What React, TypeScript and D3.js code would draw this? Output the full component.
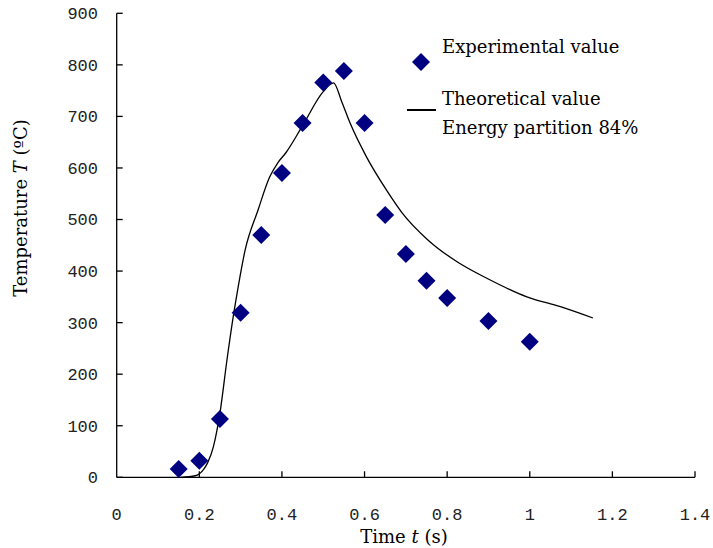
import React from "react";
import * as d3 from "d3";

const expTime = [0.15, 0.2, 0.25, 0.3, 0.35, 0.4, 0.45, 0.5, 0.55, 0.6, 0.65, 0.7, 0.75, 0.8, 0.9, 1.0];
const expTemp = [16, 32, 113, 319, 470, 590, 687, 766, 788, 687, 509, 433, 381, 348, 303, 263];

const theoTime = [0.155, 0.19, 0.21, 0.22, 0.234, 0.25, 0.267, 0.282, 0.294, 0.311, 0.342, 0.37, 0.39, 0.41, 0.45, 0.5, 0.525, 0.545, 0.565, 0.605, 0.654, 0.69, 0.754, 0.824, 0.896, 0.993, 1.074, 1.153];
const theoTemp = [0, 3, 15, 28, 59, 125, 228, 311, 369, 441, 518, 582, 610, 630, 682, 748, 765, 728, 687, 621, 556, 514, 460, 418, 386, 350, 331, 309];

const xTicks = [0, 0.2, 0.4, 0.6, 0.8, 1, 1.2, 1.4];
const xTickLabels = ["0", "0.2", "0.4", "0.6", "0.8", "1", "1.2", "1.4"];
const yTicks = [0, 100, 200, 300, 400, 500, 600, 700, 800, 900];

export default function App() {
  const W = 713, H = 548;
  const x = d3.scaleLinear().domain([0, 1.4]).range([116.7, 695]);
  const y = d3.scaleLinear().domain([0, 900]).range([477.3, 13.3]);
  const line = d3.line<number>().x((_, i) => x(theoTime[i])).y((d) => y(d)).curve(d3.curveMonotoneX);
  const diamond = (cx: number, cy: number, r = 9) => `M${cx},${cy - r}L${cx + r},${cy}L${cx},${cy + r}L${cx - r},${cy}Z`;
  const mono = "'Liberation Mono', 'DejaVu Sans Mono', monospace";
  const serif = "'DejaVu Serif', 'Liberation Serif', serif";
  const fs = 18;
  return (
    <svg width={W} height={H} style={{ position: "absolute", left: 0, top: 0, background: "#fff" }}>
      <rect width={W} height={H} fill="#fff" />
      {/* axes */}
      <line x1={x(0)} x2={x(0)} y1={y(900)} y2={y(0)} stroke="#000" strokeWidth={1.3} />
      <line x1={x(0)} x2={x(1.4)} y1={y(0)} y2={y(0)} stroke="#000" strokeWidth={1.3} />
      {yTicks.map((t) => (
        <g key={"y" + t}>
          <line x1={x(0)} x2={x(0) + 6} y1={y(t)} y2={y(t)} stroke="#000" strokeWidth={1.3} />
          <text x={98} y={y(t)} dy="0.35em" textAnchor="end" fontFamily={mono} fontSize={17} fill="#222">{t}</text>
        </g>
      ))}
      {xTicks.map((t, i) => (
        <g key={"x" + t}>
          {i > 0 && <line x1={x(t)} x2={x(t)} y1={y(0)} y2={y(0) - 6} stroke="#000" strokeWidth={1.3} />}
          <text x={x(t)} y={520} textAnchor="middle" fontFamily={mono} fontSize={17} fill="#222">{xTickLabels[i]}</text>
        </g>
      ))}
      {/* theoretical curve */}
      <path d={line(theoTemp) || ""} fill="none" stroke="#000" strokeWidth={1.3} />
      {/* experimental points */}
      {expTemp.map((v, i) => (
        <path key={"p" + i} d={diamond(x(expTime[i]), y(v))} fill="#000080" />
      ))}
      {/* axis titles */}
      <text x={404} y={543} textAnchor="middle" fontFamily={serif} fontSize={fs} fill="#000">
        Time <tspan fontStyle="italic">t</tspan> (s)
      </text>
      <text transform="translate(27,208) rotate(-90)" textAnchor="middle" fontFamily={serif} fontSize={fs} fill="#000">
        Temperature <tspan fontStyle="italic">T</tspan> (ºC)
      </text>
      {/* legend */}
      <path d={diamond(421, 62)} fill="#000080" />
      <text x={442} y={53} fontFamily={serif} fontSize={fs} fill="#000">Experimental value</text>
      <line x1={407} x2={436} y1={110} y2={110} stroke="#000" strokeWidth={2} />
      <text x={442} y={105} fontFamily={serif} fontSize={fs} fill="#000">Theoretical value</text>
      <text x={442} y={134} fontFamily={serif} fontSize={fs} fill="#000">Energy partition 84%</text>
    </svg>
  );
}
